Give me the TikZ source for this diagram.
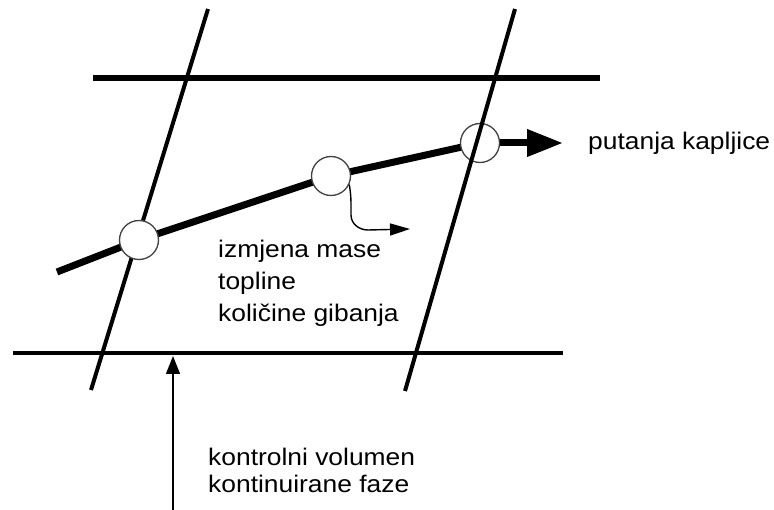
\documentclass[tikz,border=0pt]{standalone}
\usepackage{fontspec}
\setmainfont{Liberation Sans}[FakeStretch=1.1]
\usetikzlibrary{arrows.meta}
\begin{document}
\begin{tikzpicture}[x=1pt,y=-1pt,
  wall/.style={line width=4pt},
  lid/.style={line width=6.5pt},
  thinline/.style={line width=4pt},
  traj/.style={line width=7pt,line join=round},
  drop/.style={circle,draw=black!75,line width=1.3pt,fill=white,minimum size=39pt,inner sep=0pt},
  lbl/.style={anchor=base west,inner sep=0pt,font=\fontsize{24}{32}\selectfont},
  thinarrow/.style={line width=1.4pt}
]
\useasboundingbox (0,0) rectangle (774,510);
% control volume lines
\coordinate (lt) at (208,9);
\coordinate (lb) at (91,390);
\coordinate (rt) at (515,9);
\coordinate (rb) at (405,391);
\coordinate (ta) at (93,78);
\coordinate (tb) at (600,78);
\coordinate (ba) at (13,353);
\coordinate (bb) at (563,353);
\draw[lid] (ta) -- (tb);
\draw[thinline] (ba) -- (bb);
\draw[wall] (lt) -- (lb);
% trajectory
\coordinate (s) at (57,272);
\coordinate (p1) at (139,240);
\coordinate (p2) at (331,176);
\coordinate (p3) at (480,143);
\coordinate (tip) at (563,143);
\draw[traj] (s) -- (p1) -- (p2) -- (p3);
\node[drop] (c1) at (p1) {};
\node[drop] (c2) at (p2) {};
\node[drop] (c3) at (p3) {};
\draw[traj,-{Triangle[length=36pt,width=26pt]}] (c3.east) -- (tip);
\draw[wall] (rt) -- (rb);
% exchange arrow
\coordinate (ex) at (410,229);
\draw[thinarrow,-{Triangle[length=20pt,width=12pt]}] (c2.-25) to[out=-80,in=90] (351,215) to[out=-90,in=180] (368,230) -- (ex);
% bottom arrow
\coordinate (vb) at (173,512);
\coordinate (vt) at (173,356);
\draw[thinarrow,-{Triangle[length=18pt,width=14pt]}] (vb) -- (vt);
% labels
\node[lbl] (l1) at (218,258) {izmjena mase};
\node[lbl] (l2) at (218,290) {topline};
\node[lbl] (l3) at (218,322) {količine gibanja};
\node[lbl] (l4) at (588,150) {putanja kapljice};
\node[lbl] (l5) at (208,465) {kontrolni volumen};
\node[lbl] (l6) at (208,493) {kontinuirane faze};
\end{tikzpicture}
\end{document}
